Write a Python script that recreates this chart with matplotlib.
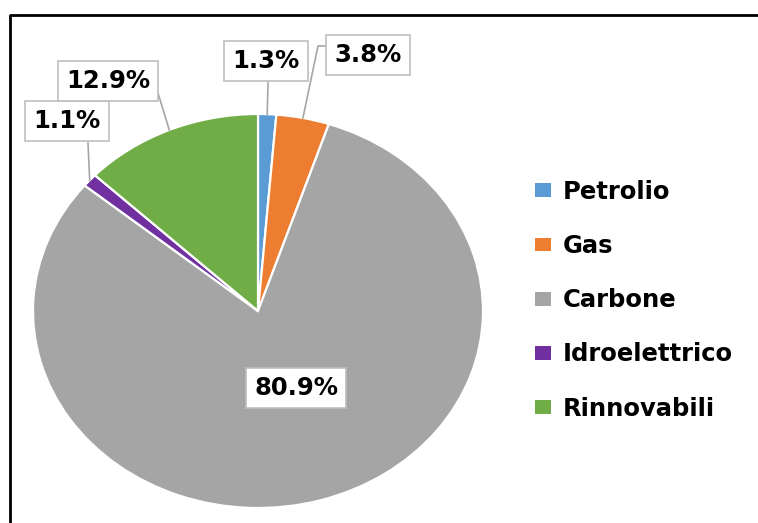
import matplotlib
matplotlib.use("Agg")
import matplotlib.pyplot as plt
import numpy as np
from matplotlib.lines import Line2D

# dati
categories = ["Petrolio", "Gas", "Carbone", "Idroelettrico", "Rinnovabili"]
values = [1.3, 3.8, 80.9, 1.1, 12.9]
colors = ["#5B9BD5", "#ED7D31", "#A5A5A5", "#7030A0", "#70AD47"]

W, H = 758, 523
fig = plt.figure(figsize=(W / 100, H / 100), dpi=100)

# pie (ellisse: centro 258,311 px, rx 225, ry 197)
cx, cy, rx, ry = 258, 311, 225, 197
ax = fig.add_axes([(cx - rx) / W, (H - cy - ry) / H, 2 * rx / W, 2 * ry / H])
wedges, _ = ax.pie(values, colors=colors, startangle=90, counterclock=False,
                   wedgeprops=dict(edgecolor="white", linewidth=1.6))
ax.set_aspect("auto")
ax.set_xlim(-1, 1)
ax.set_ylim(-1, 1)
ax.axis("off")


def px2data(px, py):
    return (px - cx) / rx, (cy - py) / ry


# posizione delle etichette (centro del riquadro, px) e punto di attacco della linea
label_pos = [(266, 61), (368, 55), (296, 388), (67, 121), (108, 81)]
attach = [(268, 83), (318, 46), None, (88, 143), (158, 93)]

for w, v, (lx, ly), att in zip(wedges, values, label_pos, attach):
    tx, ty = px2data(lx, ly)
    ax.text(tx, ty, f"{v}%", ha="center", va="center", fontsize=17.5,
            fontweight="bold", color="black", zorder=5,
            bbox=dict(boxstyle="square,pad=0.34", fc="white", ec="#BFBFBF", lw=1.2))
    if att is None:
        continue
    mid = np.deg2rad((w.theta1 + w.theta2) / 2)
    ex, ey = np.cos(mid), np.sin(mid)
    ax_, ay_ = px2data(*att)
    xs, ys = [ex, ax_], [ey, ay_]
    if att == (318, 46):
        bx, by = px2data(328, 46)
        xs.append(bx)
        ys.append(by)
    ax.plot(xs, ys, color="#A6A6A6", lw=1.2, zorder=4, clip_on=False)

# legenda
fs = 17.5
leg = fig.legend(wedges, categories, loc="upper left",
                 bbox_to_anchor=(535 / W, (H - 180) / H), frameon=False,
                 prop=dict(size=fs, weight="bold"), borderpad=0, borderaxespad=0,
                 handlelength=0.66, handleheight=0.5, handletextpad=0.5,
                 labelspacing=1.24)
for h in leg.legend_handles:
    h.set_edgecolor("none")

# bordo nero
fig.add_artist(Line2D([10 / W, 10 / W, 1], [0, (H - 15) / H, (H - 15) / H],
                      color="black", lw=2, transform=fig.transFigure))

fig.savefig("out.png", dpi=100)
